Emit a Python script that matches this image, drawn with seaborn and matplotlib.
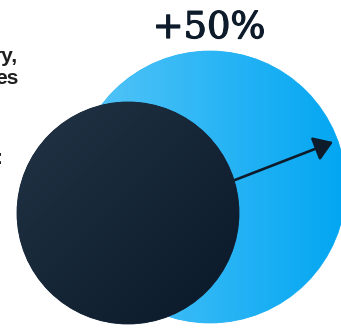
import numpy as np
import matplotlib
matplotlib.use("Agg")
import matplotlib.pyplot as plt
import matplotlib.patheffects as pe
from matplotlib.patches import Circle
from matplotlib.colors import LinearSegmentedColormap
import seaborn as sns

# ---- data ----
series_names = ["before", "after"]
areas = [100, 150]            # relative area of each circle
change_label = "+50%"
side_texts = ["ry,", "es", ":"]

# ---- style ----
sns.set_theme(style="white")
plt.rcParams["font.family"] = ["Liberation Sans", "DejaVu Sans"]

W, H = 341, 329
fig = plt.figure(figsize=(W / 100, H / 100), dpi=100)
ax = fig.add_axes([0, 0, 1, 1])
ax.set_xlim(0, W)
ax.set_ylim(H, 0)
ax.axis("off")

base_r = 111.0
radii = [base_r * np.sqrt(a / areas[0]) for a in areas]
centers = {"before": (128, 213), "after": (210, 187)}

# big (after) circle with horizontal gradient
cx, cy = centers["after"]
r = radii[1]
cmap_big = LinearSegmentedColormap.from_list("big", ["#58c6f8", "#02a6f2"])
ax.add_patch(Circle((cx, cy), r, color="#2db7f5", lw=0.6, zorder=1))
grad = np.linspace(0, 1, 256)[None, :]
im = ax.imshow(grad, cmap=cmap_big, extent=[cx - r, cx + r, cy + r, cy - r],
               aspect="auto", zorder=2, interpolation="bilinear")
clip_big = Circle((cx, cy), r, transform=ax.transData)
im.set_clip_path(clip_big)

# arrow
ax.annotate("", xy=(333, 142), xytext=(222, 185),
            arrowprops=dict(arrowstyle="-|>,head_length=0.75,head_width=0.5",
                            lw=1.9, color="#0d1b2a", mutation_scale=15,
                            shrinkA=0, shrinkB=0),
            zorder=3)

# small (before) circle with diagonal gradient
cx, cy = centers["before"]
r = radii[0]
cmap_dark = LinearSegmentedColormap.from_list("dark", ["#213445", "#0a1828"])
ax.add_patch(Circle((cx, cy), r, color="#15263a", lw=0.6, zorder=4))
yy, xx = np.mgrid[0:1:256j, 0:1:256j]
dg = (xx + yy) / 2
im2 = ax.imshow(dg, cmap=cmap_dark, extent=[cx - r, cx + r, cy + r, cy - r],
                aspect="auto", zorder=5, interpolation="bilinear")
clip_small = Circle((cx, cy), r, transform=ax.transData)
im2.set_clip_path(clip_small)

# change label
ax.text(209, 38, change_label, ha="center", va="baseline",
        fontsize=26.5, color="#0d1b2a", family=["DejaVu Serif"],
        zorder=6,
        path_effects=[pe.withStroke(linewidth=0.9, foreground="#0d1b2a")])

# cut-off side text
ax.text(18, 62, side_texts[0], ha="right", va="baseline", fontsize=15,
        fontweight="bold", color="#1e1e1e", zorder=6)
ax.text(18.5, 84, side_texts[1], ha="right", va="baseline", fontsize=15,
        fontweight="bold", color="#1e1e1e", zorder=6)
ax.text(3.5, 164, side_texts[2], ha="right", va="baseline", fontsize=15,
        fontweight="bold", color="#1e1e1e", zorder=6)

fig.savefig("out.png", dpi=100)
